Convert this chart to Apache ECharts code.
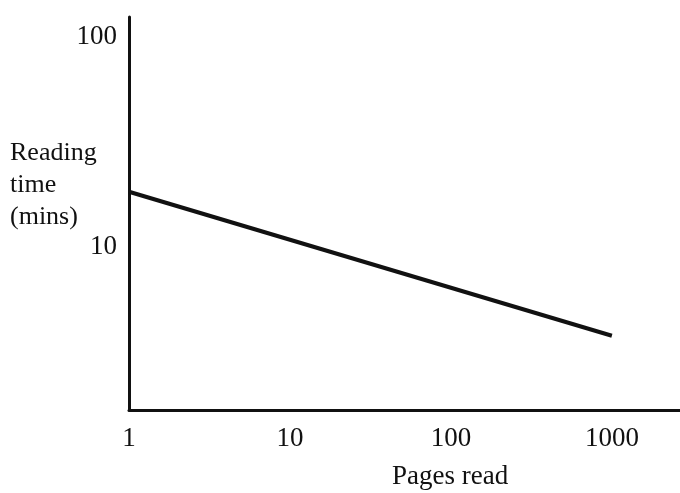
<!DOCTYPE html>
<html>
<head>
<meta charset="utf-8">
<script src="https://cdn.jsdelivr.net/npm/echarts@6/dist/echarts.min.js"></script>
<style>
  html, body { margin: 0; padding: 0; background: #fff; }
  #main { width: 680px; height: 493px; }
</style>
</head>
<body>
<div id="main"></div>
<script>
// pages read vs reading time, both on log scales
var pagesRead = [1, 1000];
var readingTime = [18.3, 3.77];
var xLimits = [1, 2650];
var yLimits = [1.67, 124.5];

var serif = '"Liberation Serif", "DejaVu Serif", serif';

function powerOfTen(v) {
  var l = Math.log10(v);
  return Math.abs(l - Math.round(l)) < 1e-6 ? String(Math.round(v)) : '';
}

var chart = echarts.init(document.getElementById('main'));

chart.setOption({
  animation: false,
  backgroundColor: '#fff',
  title: [
    {
      text: 'Reading\ntime\n(mins)',
      left: 10, top: 137, padding: 0,
      textStyle: { fontFamily: serif, fontSize: 26, fontWeight: 'normal', color: '#111', lineHeight: 32 }
    },
    {
      text: 'Pages read',
      left: 392, top: 463, padding: 0,
      textStyle: { fontFamily: serif, fontSize: 27, fontWeight: 'normal', color: '#111' }
    }
  ],
  grid: { left: 129, right: 0, top: 17, bottom: 83, outerBoundsMode: 'none' },
  xAxis: {
    type: 'log',
    logBase: 10,
    min: xLimits[0],
    max: xLimits[1],
    axisLine: { lineStyle: { color: '#111', width: 3 } },
    axisTick: { show: false },
    splitLine: { show: false },
    axisLabel: {
      formatter: powerOfTen,
      margin: 15,
      fontFamily: serif, fontSize: 27, color: '#111'
    }
  },
  yAxis: {
    type: 'log',
    logBase: 10,
    min: yLimits[0],
    max: yLimits[1],
    axisLine: { show: true, lineStyle: { color: '#111', width: 3 } },
    axisTick: { show: false },
    splitLine: { show: false },
    axisLabel: {
      formatter: powerOfTen,
      margin: 12,
      padding: [8, 0, 0, 0],
      fontFamily: serif, fontSize: 27, color: '#111'
    }
  },
  series: [{
    type: 'line',
    data: pagesRead.map(function (p, i) { return [p, readingTime[i]]; }),
    symbol: 'none',
    lineStyle: { color: '#111', width: 4 },
    silent: true
  }]
});
</script>
</body>
</html>
